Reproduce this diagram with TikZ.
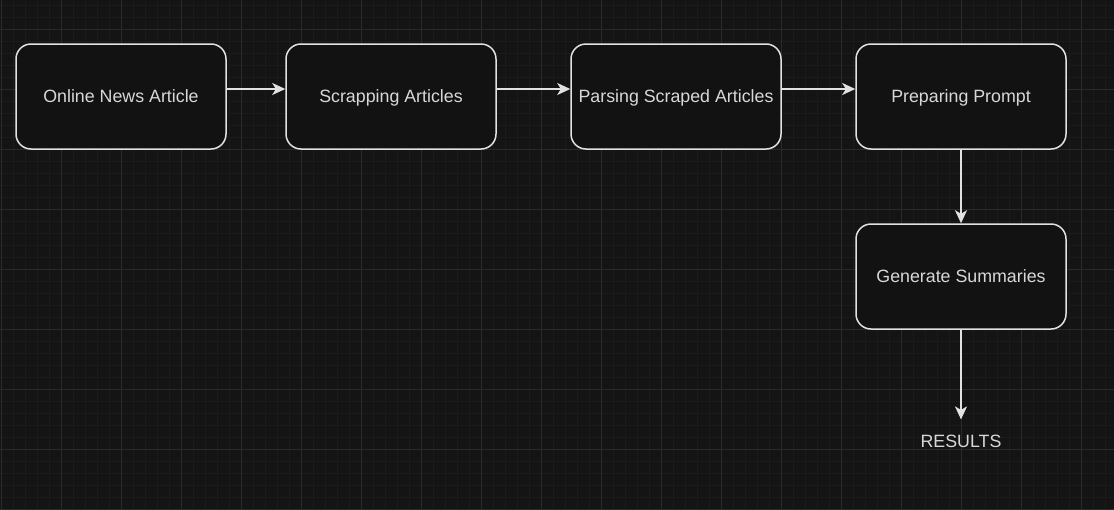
\documentclass[tikz,border=0pt]{standalone}
\usepackage{fontspec}
\setmainfont{Liberation Sans}
\usetikzlibrary{arrows.meta}
\definecolor{canvasbg}{HTML}{141414}
\definecolor{gridminor}{HTML}{1B1B1B}
\definecolor{gridmajor}{HTML}{2A2A2A}
\definecolor{boxfill}{HTML}{121212}
\definecolor{boxline}{HTML}{E2E2E2}
\definecolor{labeltext}{HTML}{D8D8D8}
\tikzset{
  labelfont/.style={text=labeltext, font=\fontsize{17.8pt}{20pt}\selectfont,
    text height=12.8pt, text depth=0pt},
  stepbox/.style={labelfont, draw=boxline, line width=1.5pt, fill=boxfill,
    rounded corners=15pt, minimum width=210pt, minimum height=105pt,
    inner sep=0pt},
  plainlabel/.style={labelfont, inner xsep=0pt, inner ysep=15pt},
  flow/.style={draw=boxline, line width=1.5pt,
    -{Stealth[length=13pt, width=12pt, inset=3.5pt]}},
  minorline/.style={draw=gridminor, line width=1pt},
  majorline/.style={draw=gridmajor, line width=1pt}
}
\begin{document}
\begin{tikzpicture}[x=1pt, y=-1pt]
  % canvas and background grid
  \fill[canvasbg] (0,0) rectangle (1114,509);
  \useasboundingbox (0,0) rectangle (1114,509);
  \foreach \gx in {1,13,...,1114} \draw[minorline] (\gx,0) -- (\gx,509);
  \foreach \gy in {5,17,...,509} \draw[minorline] (0,\gy) -- (1114,\gy);
  \foreach \gx in {1,61,...,1114} \draw[majorline] (\gx,0) -- (\gx,509);
  \foreach \gy in {29,89,...,509} \draw[majorline] (0,\gy) -- (1114,\gy);

  % process steps
  \node[stepbox] (news)    at (121,96.5)  {Online News Article};
  \node[stepbox] (scrape)  at (391,96.5)  {Scrapping Articles};
  \node[stepbox] (parse)   at (676,96.5)  {Parsing Scraped Articles};
  \node[stepbox] (prompt)  at (961,96.5)  {Preparing Prompt};
  \node[stepbox] (summary) at (961,276.5) {Generate Summaries};
  \node[plainlabel] (results) at (961,441) {RESULTS};

  % connectors
  \draw[flow] ([yshift=7.5pt]news.east)   -- ([yshift=7.5pt]scrape.west);
  \draw[flow] ([yshift=7.5pt]scrape.east) -- ([yshift=7.5pt]parse.west);
  \draw[flow] ([yshift=7.5pt]parse.east)  -- ([yshift=7.5pt]prompt.west);
  \draw[flow] (prompt.south) -- (summary.north);
  \draw[flow] (summary.south) -- (results.north);
\end{tikzpicture}
\end{document}
